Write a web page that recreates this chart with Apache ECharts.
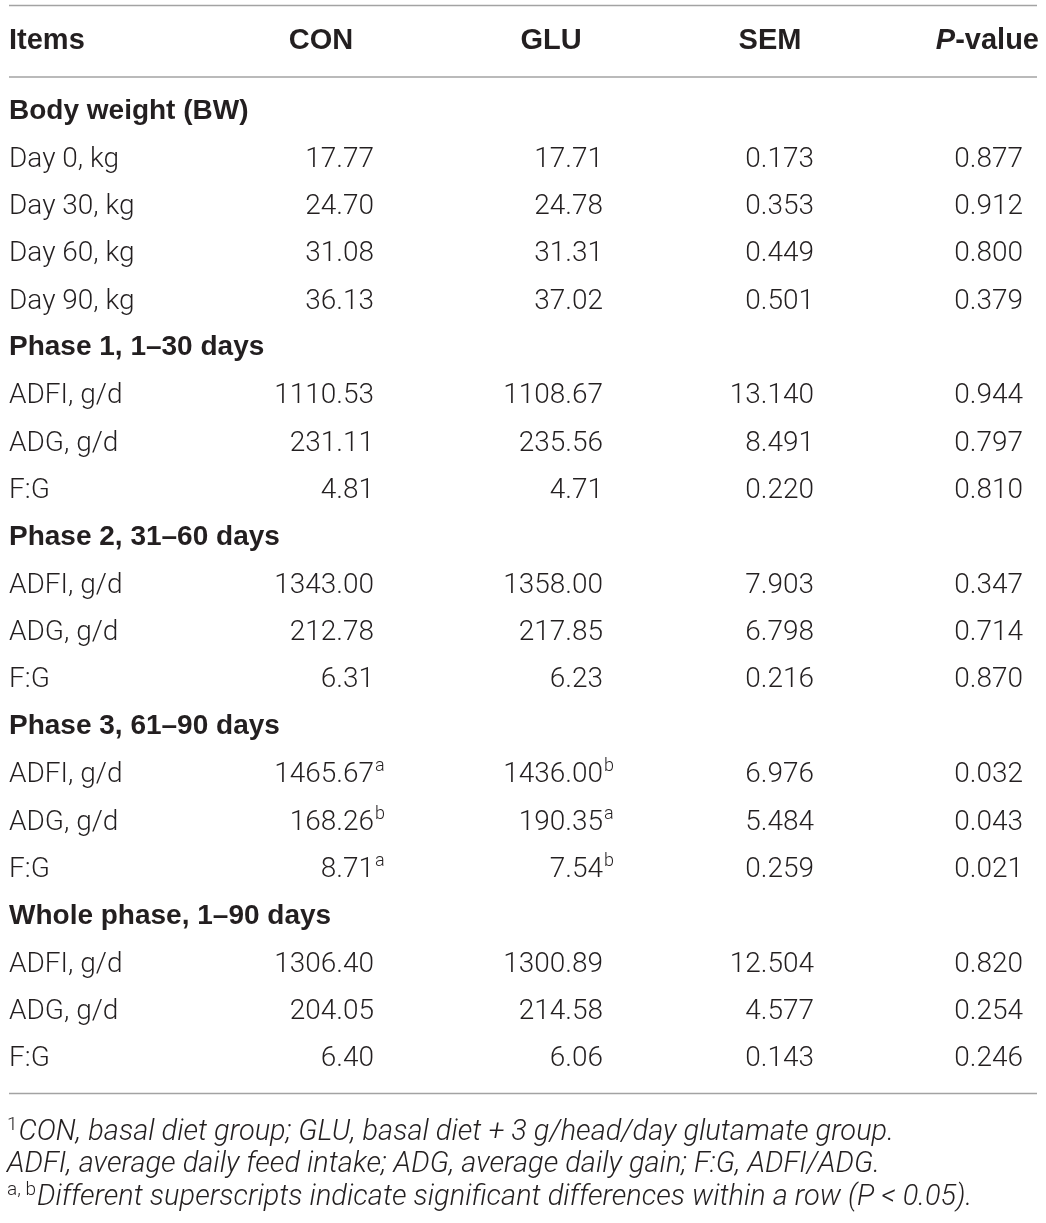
<!DOCTYPE html>
<html>
<head>
<meta charset="utf-8">
<script src="https://cdn.jsdelivr.net/npm/echarts@6/dist/echarts.min.js"></script>
<style>
  html, body { margin: 0; padding: 0; background: #fff; }
  #chart { width: 1046px; height: 1223px; }
</style>
</head>
<body>
<div id="chart"></div>
<script>
// table contents
const headers = ['Items', 'CON', 'GLU', 'SEM', 'P-value']
const groupTitles = ['Body weight (BW)', 'Phase 1, 1–30 days', 'Phase 2, 31–60 days', 'Phase 3, 61–90 days', 'Whole phase, 1–90 days']
const itemLabels = [
  ['Day 0, kg', 'Day 30, kg', 'Day 60, kg', 'Day 90, kg'],
  ['ADFI, g/d', 'ADG, g/d', 'F:G'],
  ['ADFI, g/d', 'ADG, g/d', 'F:G'],
  ['ADFI, g/d', 'ADG, g/d', 'F:G'],
  ['ADFI, g/d', 'ADG, g/d', 'F:G'],
]
const conValues = [17.77, 24.70, 31.08, 36.13, 1110.53, 231.11, 4.81, 1343.00, 212.78, 6.31, 1465.67, 168.26, 8.71, 1306.40, 204.05, 6.40]
const conSup    = ['', '', '', '', '', '', '', '', '', '', 'a', 'b', 'a', '', '', '']
const gluValues = [17.71, 24.78, 31.31, 37.02, 1108.67, 235.56, 4.71, 1358.00, 217.85, 6.23, 1436.00, 190.35, 7.54, 1300.89, 214.58, 6.06]
const gluSup    = ['', '', '', '', '', '', '', '', '', '', 'b', 'a', 'b', '', '', '']
const semValues = [0.173, 0.353, 0.449, 0.501, 13.140, 8.491, 0.220, 7.903, 6.798, 0.216, 6.976, 5.484, 0.259, 12.504, 4.577, 0.143]
const pValues   = [0.877, 0.912, 0.800, 0.379, 0.944, 0.797, 0.810, 0.347, 0.714, 0.870, 0.032, 0.043, 0.021, 0.820, 0.254, 0.246]
const footnotes = [
  ['1', 'CON, basal diet group; GLU, basal diet + 3 g/head/day glutamate group.'],
  ['', 'ADFI, average daily feed intake; ADG, average daily gain; F:G, ADFI/ADG.'],
  ['a, b', 'Different superscripts indicate significant differences within a row (P < 0.05).'],
]

// layout
const W = 1046, H = 1223
const COL_X = [9, 374, 603, 814, 1023]     // left edge for items, right edge for numbers
const HEAD_X = [9, 321, 551, 770, 1039]
const INK = '#231f20'
const RULE = '#a3a3a3'
const BODY_FONT = '"Roboto Light", Roboto, "Liberation Sans", sans-serif'
const HEAD_FONT = '"Liberation Sans", Arial, sans-serif'

// build rows
const rowNames = []
const cells = []
let k = 0
groupTitles.forEach((g, gi) => {
  cells.push({ col: 0, row: rowNames.length, text: g, bold: true })
  rowNames.push(g)
  itemLabels[gi].forEach(lab => {
    const r = rowNames.length
    rowNames.push(lab)
    cells.push({ col: 0, row: r, text: lab })
    cells.push({ col: 1, row: r, text: conValues[k].toFixed(2), sup: conSup[k] })
    cells.push({ col: 2, row: r, text: gluValues[k].toFixed(2), sup: gluSup[k] })
    cells.push({ col: 3, row: r, text: semValues[k].toFixed(3) })
    cells.push({ col: 4, row: r, text: pValues[k].toFixed(3) })
    k++
  })
})

const chart = echarts.init(document.getElementById('chart'), null, { renderer: 'canvas' })

const rowH = 47.35
const firstRowY = 111
const gridTop = firstRowY - rowH / 2
const gridBottom = H - (gridTop + rowH * rowNames.length)

function renderCell(params, api) {
  const c = cells[params.dataIndex]
  const p = api.coord([COL_X[c.col], api.value(1)])
  const children = []
  if (c.col === 0) {
    children.push({
      type: 'text', x: p[0], y: p[1],
      style: {
        text: c.text, fill: INK,
        font: c.bold ? `bold 28px ${HEAD_FONT}` : `300 28px ${BODY_FONT}`,
        align: 'left', verticalAlign: 'middle',
      },
    })
  } else {
    children.push({
      type: 'text', x: p[0], y: p[1],
      style: { text: c.text, fill: INK, font: `300 28px ${BODY_FONT}`, align: 'right', verticalAlign: 'middle' },
    })
    if (c.sup) {
      children.push({
        type: 'text', x: p[0] + 1, y: p[1] - 8,
        style: { text: c.sup, fill: INK, font: `300 18px ${BODY_FONT}`, align: 'left', verticalAlign: 'middle' },
      })
    }
  }
  return { type: 'group', children }
}

const graphics = []
// rules
;[5.5, 77, 1093.5].forEach(y => {
  graphics.push({ type: 'line', shape: { x1: 9, y1: y, x2: 1037, y2: y }, style: { stroke: RULE, lineWidth: 1.6 } })
})
// header
headers.forEach((h, i) => {
  const align = i === 0 ? 'left' : i === 4 ? 'right' : 'center'
  const text = i === 4 ? '{i|P}{n|-value}' : '{n|' + h + '}'
  graphics.push({
    type: 'text', x: HEAD_X[i], y: 41,
    style: {
      text, align, verticalAlign: 'middle',
      rich: {
        n: { font: `bold 29px ${HEAD_FONT}`, fill: INK },
        i: { font: `italic bold 29px ${HEAD_FONT}`, fill: INK },
      },
    },
  })
})
// footnotes
footnotes.forEach((f, i) => {
  graphics.push({
    type: 'text', x: 7, y: 1131 + i * 32.5,
    style: {
      text: (f[0] ? '{s|' + f[0] + '}' : '') + '{t|' + f[1] + '}',
      align: 'left', verticalAlign: 'middle',
      rich: {
        s: { font: `300 19px ${BODY_FONT}`, fill: INK, verticalAlign: 'top', padding: [0, 1, 14, 0] },
        t: { font: `italic 300 29px ${BODY_FONT}`, fill: INK },
      },
    },
  })
})

chart.setOption({
  backgroundColor: '#ffffff',
  animation: false,
  grid: { left: 0, right: 0, top: gridTop, bottom: gridBottom },
  xAxis: { type: 'value', min: 0, max: W, show: false },
  yAxis: { type: 'category', data: rowNames, inverse: true, show: false },
  graphic: graphics,
  series: [{
    type: 'custom',
    renderItem: renderCell,
    data: cells.map(c => [c.col, c.row]),
    silent: true,
  }],
})
</script>
</body>
</html>
